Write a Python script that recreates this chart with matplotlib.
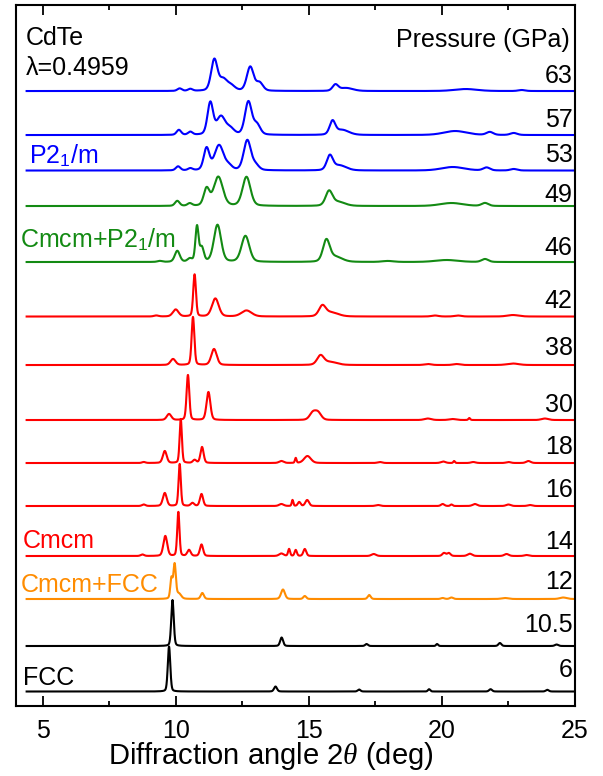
import numpy as np
import matplotlib
matplotlib.use("Agg")
import matplotlib.pyplot as plt

plt.rcParams['font.family'] = ['Liberation Sans', 'DejaVu Sans']
plt.rcParams['mathtext.fontset'] = 'custom'
plt.rcParams['mathtext.rm'] = 'Liberation Sans'
plt.rcParams['mathtext.it'] = 'Liberation Serif:italic'

# pressures (GPa), top to bottom
pressures = ["63", "57", "53", "49", "46", "42", "38", "30", "18", "16", "14", "12", "10.5", "6"]
colors = ["#0000ff"] * 3 + ["#138a13"] * 2 + ["#ff0000"] * 6 + ["#ff8c00"] + ["#000000"] * 2
offsets = [615, 571, 535.5, 500, 444, 389.5, 341, 286, 243, 200, 150, 107, 60, 14.5]
label_y = [623, 579, 544, 504, 451, 398, 351, 294, 252, 209, 157, 117, 74, 29]

# peaks: (2theta, height, fwhm)
peaks_63 = [(10.15, 2.5, 0.2), (10.55, 2, 0.2), (11.45, 31, 0.28), (11.78, 11, 0.35), (12.08, 5, 0.35),
            (12.8, 24, 0.3), (13.15, 8, 0.3), (16.0, 6, 0.25), (16.4, 3, 0.6), (20.9, 2, 1.0), (23.0, 1, 0.3)]
peaks_57 = [(10.12, 5, 0.2), (10.55, 3, 0.2), (11.3, 32, 0.25), (11.7, 18, 0.38), (12.05, 6, 0.35),
            (12.73, 33, 0.3), (13.05, 10, 0.3), (15.89, 13, 0.25), (16.25, 5, 0.6), (20.5, 4, 1.0),
            (21.8, 3, 0.3), (22.7, 2, 0.3)]
peaks_53 = [(10.09, 4, 0.2), (10.55, 2, 0.2), (11.16, 22, 0.25), (11.63, 25, 0.4), (12.0, 4, 0.3),
            (12.69, 30, 0.32), (13.0, 5, 0.3), (15.79, 14, 0.27), (16.15, 5, 0.6), (20.41, 3.5, 1.0),
            (21.68, 3, 0.3), (22.7, 1.5, 0.3)]
peaks_49 = [(10.06, 5, 0.2), (10.53, 2.5, 0.2), (11.16, 17, 0.25), (11.6, 29, 0.4), (12.66, 29, 0.35),
            (15.76, 14, 0.3), (16.1, 4, 0.6), (20.36, 3, 1.0), (21.62, 3, 0.3)]
peaks_46 = [(9.4, 1, 0.2), (10.06, 11, 0.22), (10.53, 3, 0.2), (10.8, 35, 0.14), (10.98, 14, 0.18),
            (11.57, 37, 0.32), (12.62, 26, 0.35), (15.66, 21, 0.3), (16.0, 5, 0.6), (17.97, 1, 0.5),
            (20.18, 2, 1.0), (21.62, 3, 0.3)]
peaks_42 = [(9.27, 1, 0.2), (10.0, 7, 0.25), (10.71, 42, 0.12), (11.49, 18, 0.3), (12.66, 6, 0.45),
            (15.51, 10, 0.3), (15.85, 4, 0.6), (19.74, 1, 0.3), (20.6, 1, 0.3), (22.67, 1.5, 0.5)]
peaks_38 = [(9.9, 6, 0.22), (10.65, 48, 0.12), (11.44, 16, 0.24), (15.44, 9, 0.3), (15.8, 3, 0.6),
            (19.47, 1, 0.3), (20.55, 1, 0.3), (22.67, 1.5, 0.5)]
peaks_30 = [(9.75, 6, 0.2), (10.46, 45, 0.12), (11.23, 28, 0.17), (15.15, 7, 0.28), (15.35, 7, 0.28),
            (19.47, 1.5, 0.3), (20.4, 1, 0.3), (21.03, 2, 0.08), (23.87, 1.5, 0.3)]
peaks_18 = [(8.8, 1, 0.15), (9.59, 12, 0.17), (10.19, 44, 0.1), (10.71, 3, 0.15), (10.99, 16, 0.14),
            (13.97, 2, 0.2), (14.51, 5, 0.07), (14.95, 7, 0.3), (17.67, 1, 0.2), (20.05, 1.5, 0.2),
            (20.46, 2, 0.07), (21.18, 1, 0.2), (22.5, 1, 0.2), (23.25, 2, 0.2)]
peaks_16 = [(8.8, 1.5, 0.15), (9.59, 13, 0.17), (10.15, 42, 0.1), (10.63, 3, 0.15), (10.97, 12, 0.14),
            (13.97, 2, 0.2), (14.39, 6, 0.07), (14.64, 4, 0.12), (14.94, 6, 0.16), (17.6, 1, 0.2),
            (20.03, 2, 0.15), (20.36, 1.5, 0.1), (21.24, 2, 0.2), (22.5, 1.5, 0.2), (23.31, 1, 0.2)]
peaks_14 = [(8.75, 1.5, 0.15), (9.61, 20, 0.17), (10.1, 44, 0.1), (10.5, 6, 0.15), (10.97, 11.5, 0.14),
            (13.97, 2.5, 0.2), (14.26, 7, 0.09), (14.51, 6, 0.1), (14.85, 7, 0.13), (17.44, 2, 0.2),
            (20.08, 3, 0.15), (20.26, 3, 0.15), (21.05, 2.3, 0.2), (22.43, 2, 0.2), (23.18, 1, 0.2)]
peaks_12 = [(9.84, 20, 0.1), (9.96, 34, 0.11), (10.12, 5, 0.2), (11.0, 6, 0.14), (14.03, 9.5, 0.17),
            (14.85, 3, 0.13), (17.27, 4, 0.13), (20.03, 1, 0.15), (20.36, 1.5, 0.15), (22.37, 1, 0.3),
            (24.56, 1.5, 0.3)]
peaks_10_5 = [(9.88, 46, 0.11), (13.98, 8.5, 0.13), (17.17, 2, 0.12), (19.82, 2, 0.09), (22.18, 3, 0.13),
              (24.31, 1.5, 0.15)]
peaks_6 = [(9.75, 45, 0.11), (13.75, 5, 0.13), (16.89, 2, 0.12), (19.52, 2.3, 0.1), (21.83, 2.3, 0.13),
           (23.96, 1.7, 0.13)]

all_peaks = [peaks_63, peaks_57, peaks_53, peaks_49, peaks_46, peaks_42, peaks_38, peaks_30,
             peaks_18, peaks_16, peaks_14, peaks_12, peaks_10_5, peaks_6]

# phase labels: (text, color, x, y)
phase_labels = [
    ("P2$_1$/m", "#0000ff", 4.49, 543),
    ("Cmcm+P2$_1$/m", "#138a13", 4.15, 459),
    ("Cmcm", "#ff0000", 4.26, 158),
    ("Cmcm+FCC", "#ff8c00", 4.19, 114),
    ("FCC", "#000000", 4.26, 21),
]


def profile(x, peaks):
    y = np.zeros_like(x)
    for c, h, w in peaks:
        s = w / 2.3548
        g = np.exp(-0.5 * ((x - c) / s) ** 2)
        l = 1.0 / (1.0 + ((x - c) / (w / 2)) ** 2)
        y += h * (0.75 * g + 0.25 * l)
    return y


fig = plt.figure(figsize=(6.03, 7.76), dpi=100)
ax = fig.add_axes([0.0265, 0.0902, 0.927, 0.9033])

x = np.linspace(4.4, 25.0, 4000)
for peaks, off, col in zip(all_peaks, offsets, colors):
    ax.plot(x, off + profile(x, peaks), color=col, lw=1.5)

for p, ly in zip(pressures, label_y):
    ax.text(24.91, ly, p, ha="right", va="baseline", fontsize=18)

for txt, col, tx, ty in phase_labels:
    ax.text(tx, ty, txt, color=col, ha="left", va="baseline", fontsize=18)

ax.text(4.38, 661, "CdTe", ha="left", va="baseline", fontsize=18)
ax.text(4.38, 631, "λ=0.4959", ha="left", va="baseline", fontsize=18)
ax.text(24.81, 659, "Pressure (GPa)", ha="right", va="baseline", fontsize=18)

ax.set_xlim(4, 25)
ax.set_ylim(0, 701)
ax.set_yticks([])
ax.set_xticks([5, 10, 15, 20, 25])
ax.set_xticks([7.5, 12.5, 17.5, 22.5], minor=True)
ax.tick_params(axis="x", which="both", direction="in", top=True, width=1.3)
ax.tick_params(axis="x", which="major", length=7.5, labelsize=18, pad=9)
ax.tick_params(axis="x", which="minor", length=3.8)
for sp in ax.spines.values():
    sp.set_linewidth(1.5)

ax.set_xlabel(r"Diffraction angle 2$\theta$ (deg)", fontsize=21)
ax.xaxis.set_label_coords(0.455, -0.049)

fig.savefig("out.png", dpi=100)
